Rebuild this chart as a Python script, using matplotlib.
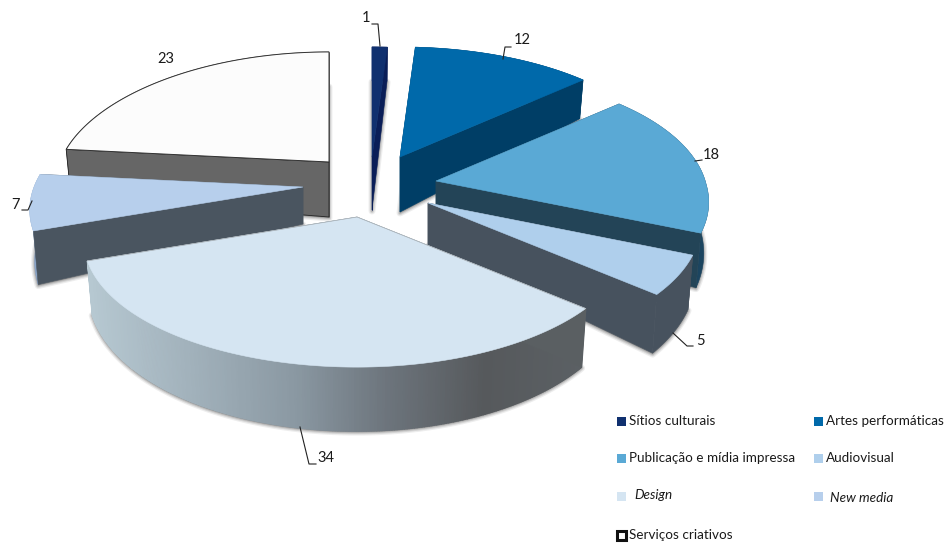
import numpy as np
import matplotlib
matplotlib.use('Agg')
from matplotlib import pyplot as plt
from matplotlib.colors import LinearSegmentedColormap
from matplotlib.patches import Rectangle

# data
categories = ['Sítios culturais', 'Artes performáticas', 'Publicação e mídia impressa',
              'Audiovisual', 'Design', 'New media', 'Serviços criativos']
values = [1, 12, 18, 5, 34, 7, 23]

# look of each slice, same order as the data
top_colors = ['#10306f', '#0069aa', '#5aa9d5', '#afcfec', '#d5e5f2', '#b7cfec', '#fcfcfc']
wall_colors = ['#0a1e58', '#003e66', '#234457', '#47525e', '#5a5f62', '#4a5560', '#666666']
rim_colors = ['#0a1e58', '#003e66', '#1c4560', '#47525e', None, '#8aa5c9', '#666666']
apex_x = [372, 400, 436, 428, 357, 303, 329]
apex_y = [157, 157, 181, 203, 217, 187, 162]
apex_depth = [53, 55, 42, 42, 54, 37, 55]
draw_order = [6, 0, 1, 2, 5, 3, 4]

# projection of the pie disc
RX, RY, PERSP = 270, 127, 0.154

rim_cmap = LinearSegmentedColormap.from_list(
    'rim', [(0, '#b6c8d1'), (0.2, '#a2b2bc'), (0.42, '#8a98a2'), (0.6, '#6d757d'),
            (0.8, '#56595c'), (1, '#5b6064')])


def rim_points(t, cx, cy):
    s = 1 / (1 + PERSP * np.cos(t))
    # small correction of the right half, the source pie is slightly skewed
    dx = np.where(t < np.pi / 2, 5, 2) * np.sin(2 * t) * (t < np.pi)
    dy = 3 * np.sin(t) ** 2
    return cx + RX * np.sin(t) * s + dx, cy - RY * np.cos(t) * s + dy


def rim_depth(t):
    return 49 - 15 * np.cos(t)


def lower(x, y, t, cx):
    # the underside pulls in a little toward the middle
    return cx + (x - cx) * 0.982, y + rim_depth(t)


fig = plt.figure(figsize=(9.45, 5.44), dpi=100)
ax = fig.add_axes([0, 0, 1, 1])
ax.set_xlim(0, 945)
ax.set_ylim(544, 0)
ax.axis('off')

plt.rcParams['font.family'] = ['Lato', 'DejaVu Sans']

edges = np.radians(np.concatenate([[0], np.cumsum(values)]) * 360 / sum(values))

z = 1
for i in draw_order:
    t0, t1 = edges[i], edges[i + 1]
    cx, cy, d = apex_x[i], apex_y[i], apex_depth[i]
    t = np.linspace(t0, t1, 260)
    x, y = rim_points(t, cx, cy)
    xb, yb = lower(x, y, t, cx)

    # soft shadow under the slice
    for lw, a in [(5, 0.10), (3.2, 0.16), (1.6, 0.22)]:
        ax.fill(np.r_[cx, xb], np.r_[cy + d, yb] + 1, fc='#555555', ec='#555555',
                lw=lw, alpha=a, zorder=z, joinstyle='round')
    z += 1

    # radial walls, the one facing us last
    walls = [t0, t1] if (t0 + t1) / 2 < np.pi else [t1, t0]
    wx, wy = rim_points(walls[0], cx, cy)
    wbx, wby = lower(wx, wy, walls[0], cx)
    ax.fill([cx, wx, wbx, cx], [cy, wy, wby, cy + d], fc=wall_colors[i], ec=wall_colors[i],
            lw=0.4, zorder=z)
    z += 1

    # outer rim
    if rim_colors[i] is None:
        for j in range(len(t) - 1):
            frac = (x[j] - x.min()) / (x.max() - x.min())
            col = rim_cmap(frac)
            ax.fill([x[j], x[j + 1], xb[j + 1], xb[j]], [y[j], y[j + 1], yb[j + 1], yb[j]],
                    fc=col, ec=col, lw=1.0, zorder=z)
    else:
        ax.fill(np.r_[x, xb[::-1]], np.r_[y, yb[::-1]], fc=rim_colors[i], ec=rim_colors[i],
                lw=0.4, zorder=z)
    z += 1

    wx, wy = rim_points(walls[1], cx, cy)
    wbx, wby = lower(wx, wy, walls[1], cx)
    wall_ec = '#222222' if i == 6 else wall_colors[i]
    ax.fill([cx, wx, wbx, cx], [cy, wy, wby, cy + d], fc=wall_colors[i], ec=wall_ec,
            lw=0.6 if i == 6 else 0.4, zorder=z)
    z += 1

    # top face
    top_ec = '#333333' if i == 6 else top_colors[i]
    ax.fill(np.r_[cx, x], np.r_[cy, y], fc=top_colors[i], ec=top_ec,
            lw=0.7 if i == 6 else 0.4, zorder=z)
    if i == 4:
        ax.plot([x[0], cx, x[-1]], [y[0], cy, y[-1]], color='#a8b0b6', lw=0.5, zorder=z)
    z += 1

# value labels with their leader lines
label_x = [366, 522, 711, 700, 326, 16, 166]
label_y = [18, 40, 155, 341, 458, 205, 59]
leader_x = [[372, 378, 380], [511, 505, 503], [702, 695], [693, 687, 673], [316, 309, 300],
            [22, 28, 32], []]
leader_y = [[24, 24, 46], [47, 47, 59], [160, 161], [346, 346, 333], [464, 464, 427],
            [210, 210, 201], []]
for i, v in enumerate(values):
    ax.text(label_x[i], label_y[i], str(v), fontsize=10.5, color='#1a1a1a',
            ha='center', va='center', zorder=z + 2)
    if leader_x[i]:
        ax.plot(leader_x[i], leader_y[i], color='#222222', lw=0.8, zorder=z + 1)

# legend
legend_x = [617, 814, 617, 814, 617, 814, 617]
legend_y = [421, 421, 458, 458, 496, 496, 535]
text_x = [629, 826, 629, 826, 634, 830, 629]
text_y = [421, 421, 458, 458, 495, 498, 535]
italic = [False, False, False, False, True, True, False]
for i, name in enumerate(categories):
    if i == 6:
        ax.add_patch(Rectangle((legend_x[i], legend_y[i] - 4), 9, 9, fc='white', ec='#111111',
                               lw=2.2, zorder=z))
    else:
        ax.add_patch(Rectangle((legend_x[i], legend_y[i] - 4.5), 9, 9, fc=top_colors[i],
                               ec='none', zorder=z))
    ax.text(text_x[i], text_y[i], name, fontsize=9.7, color='#1a1a1a', va='center', ha='left',
            style='italic' if italic[i] else 'normal', zorder=z)

fig.savefig('out.png', dpi=100, facecolor='white')
